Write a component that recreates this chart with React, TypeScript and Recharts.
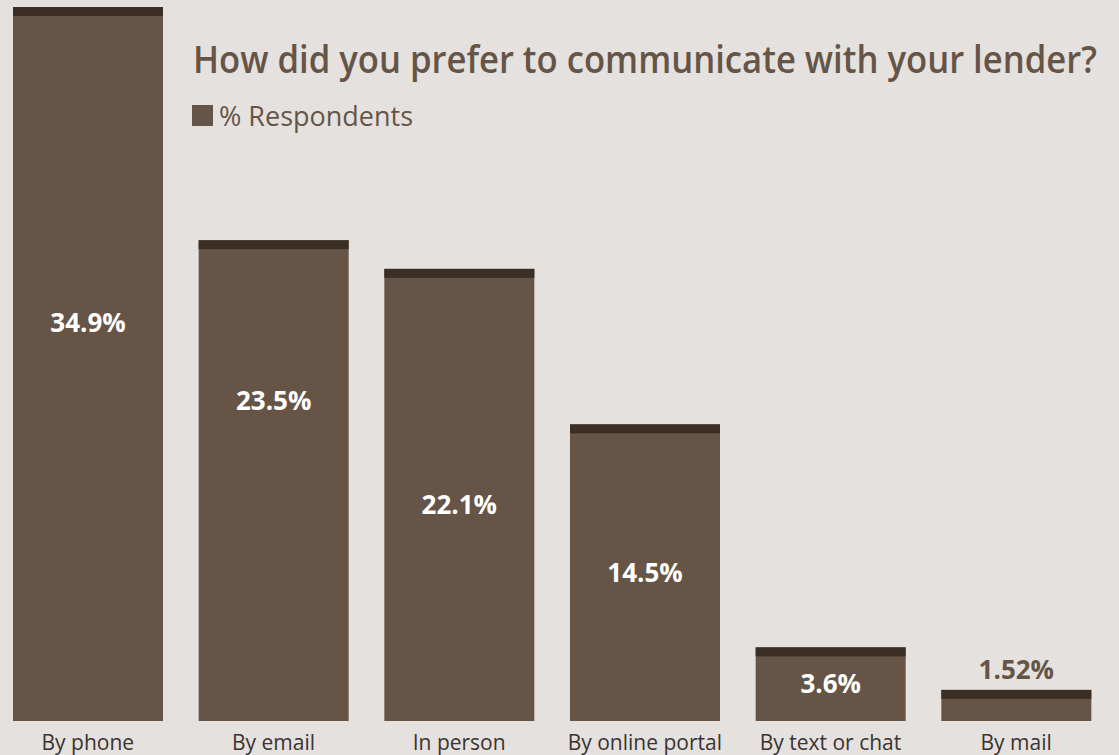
import React from "react";
import { BarChart, Bar, XAxis, YAxis, LabelList } from "recharts";

const categories = ["By phone", "By email", "In person", "By online portal", "By text or chat", "By mail"];
const respondents = [34.9, 23.5, 22.1, 14.5, 3.6, 1.52];
const valueLabels = ["34.9%", "23.5%", "22.1%", "14.5%", "3.6%", "1.52%"];
const seriesName = "% Respondents";
const title = "How did you prefer to communicate with your lender?";

// style: vertical anchor of each value label as a fraction of its bar (negative = above the bar)
const labelAnchors = [0.441, 0.333, 0.519, 0.498, 0.487, -1];

const data = categories.map((c, i) => ({ category: c, value: respondents[i], label: valueLabels[i] }));

const BG = "#e5e1de";
const BAR = "#665547";
const CAP = "#3b2f25";

const CappedBar = (props: any) => {
  const { x, y, width, height } = props;
  if (!height || height <= 0) return null;
  return (
    <g>
      <rect x={x} y={y} width={width} height={height} fill={BAR} />
      <rect x={x} y={y} width={width} height={Math.min(9, height)} fill={CAP} />
    </g>
  );
};

const ValueLabel = (props: any) => {
  const { x, y, width, height, index, value } = props;
  const frac = labelAnchors[index];
  const outside = frac < 0;
  const cy = outside ? y - 21 : y + height * frac;
  return (
    <text
      x={x + width / 2}
      y={cy}
      textAnchor="middle"
      dominantBaseline="central"
      fill={outside ? BAR : "#ffffff"}
      fontFamily="'Open Sans', sans-serif"
      fontWeight={700}
      fontSize={26}
    >
      {value}
    </text>
  );
};

const CategoryTick = (props: any) => {
  const { x, y, payload } = props;
  return (
    <text
      x={x}
      y={y + 29}
      textAnchor="middle"
      fill="#3a3330"
      fontFamily="'Open Sans', sans-serif"
      fontSize={21}
    >
      {payload.value}
    </text>
  );
};

const Header = () => (
  <svg
    width={1119}
    height={140}
    style={{ position: "absolute", left: 0, top: 0, pointerEvents: "none" }}
  >
    <text
      x={193}
      y={73}
      fill={BAR}
      fontFamily="'Open Sans', sans-serif"
      fontWeight={600}
      fontSize={38}
      textLength={904}
      lengthAdjust="spacingAndGlyphs"
    >
      {title}
    </text>
    <rect x={192} y={105} width={21} height={21} fill={BAR} />
    <text
      x={219}
      y={126}
      fill={BAR}
      fontFamily="'Open Sans', sans-serif"
      fontSize={28}
      textLength={194}
      lengthAdjust="spacingAndGlyphs"
    >
      {seriesName}
    </text>
  </svg>
);

export default function App() {
  return (
    <div style={{ position: "absolute", left: 0, top: 0, width: 1119, height: 755, background: BG, overflow: "hidden" }}>
      <BarChart
        width={1119}
        height={755}
        data={data}
        margin={{ top: 7, right: 10, bottom: 0, left: -5 }}
        barCategoryGap={0}
      >
        <XAxis
          dataKey="category"
          axisLine={false}
          tickLine={false}
          tickSize={0}
          tickMargin={0}
          height={34}
          interval={0}
          tick={<CategoryTick />}
        />
        <YAxis hide domain={[0, 34.9]} />
        <Bar dataKey="value" name={seriesName} barSize={150} shape={<CappedBar />} isAnimationActive={false}>
          <LabelList dataKey="label" content={<ValueLabel />} />
        </Bar>
      </BarChart>
      <Header />
    </div>
  );
}
